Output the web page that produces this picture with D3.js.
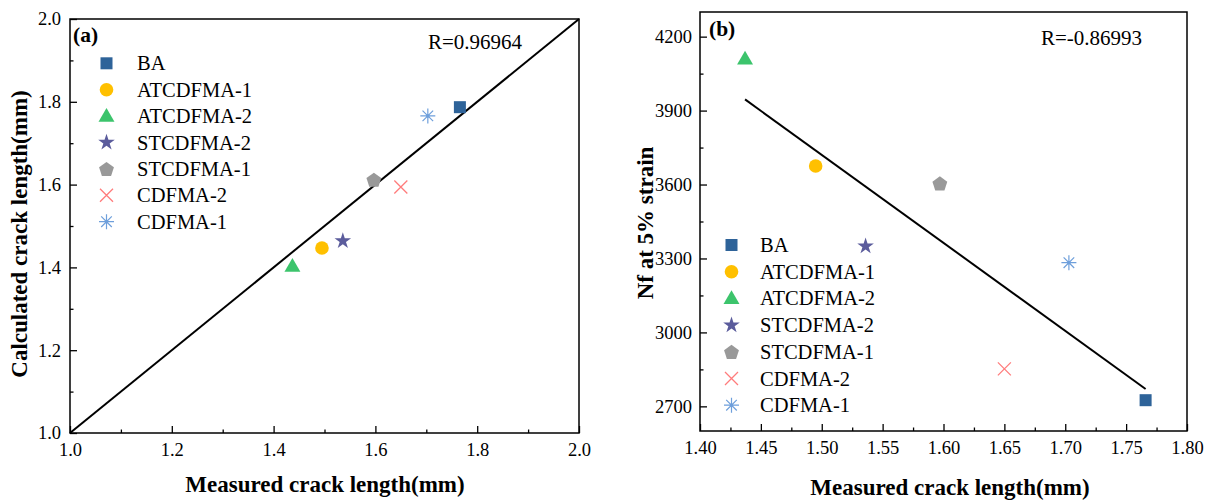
<!DOCTYPE html>
<html><head><meta charset="utf-8">
<script src="https://cdn.jsdelivr.net/npm/d3@7"></script>
<style>
html,body{margin:0;padding:0;background:#fff;}
svg{display:block;font-family:"Liberation Serif","Times New Roman",serif;}
</style></head>
<body>
<svg id="chart" width="1217" height="502"></svg>
<script>
// ---------- data ----------
const categories = ["BA","ATCDFMA-1","ATCDFMA-2","STCDFMA-2","STCDFMA-1","CDFMA-2","CDFMA-1"];
const measured   = [1.766, 1.495, 1.437, 1.536, 1.597, 1.650, 1.703];
const calculated = [1.787, 1.447, 1.403, 1.464, 1.612, 1.594, 1.766];
const nf5        = [2725, 3675, 4110, 3350, 3605, 2852, 3283];
const colors     = ["#2e6399","#ffc000","#3cc46c","#5b5c9c","#999999","#ff7c7c","#6e9fdb"];
const shapes     = ["square","circle","triangle","star","pentagon","x","asterisk"];
const ticksA     = [1.0,1.2,1.4,1.6,1.8,2.0];
const ticksBx    = [1.40,1.45,1.50,1.55,1.60,1.65,1.70,1.75,1.80];
const ticksBy    = [2700,3000,3300,3600,3900,4200];
const rTextA = "R=0.96964";
const rTextB = "R=-0.86993";

const svg = d3.select("#chart");
const TICK_FS = 18.5, LEG_FS = 20.5, TITLE_FS = 23, R_FS = 21, LAB_FS = 21.5;

function marker(g, shape, color, cx, cy){
  const s = g.append("g").attr("transform",`translate(${cx},${cy})`);
  if(shape==="square"){
    s.append("rect").attr("x",-6).attr("y",-6).attr("width",12).attr("height",12).attr("fill",color);
  } else if(shape==="circle"){
    s.append("circle").attr("r",6.8).attr("fill",color);
  } else if(shape==="triangle"){
    s.append("path").attr("d",d3.symbol(d3.symbolTriangle,110)()).attr("transform","translate(0,1)").attr("fill",color);
  } else if(shape==="star"){
    s.append("path").attr("d",d3.symbol(d3.symbolStar,85)()).attr("fill",color);
  } else if(shape==="pentagon"){
    const pts=[];for(let i=0;i<5;i++){const a=-Math.PI/2+i*2*Math.PI/5;pts.push([7.8*Math.cos(a),7.8*Math.sin(a)+0.8]);}
    s.append("path").attr("d","M"+pts.join("L")+"Z").attr("fill",color);
  } else if(shape==="x"){
    s.append("path").attr("d","M-6.5,-6.5L6.5,6.5M-6.5,6.5L6.5,-6.5").attr("stroke",color).attr("stroke-width",1.3).attr("fill","none");
  } else if(shape==="asterisk"){
    s.append("path").attr("d","M0,-7.5L0,7.5M-7.5,0L7.5,0M-5.3,-5.3L5.3,5.3M-5.3,5.3L5.3,-5.3").attr("stroke",color).attr("stroke-width",1.2).attr("fill","none");
    s.append("circle").attr("r",1.6).attr("fill",color);
  }
}

function styleAxis(g){
  g.select(".domain").remove();
  g.selectAll("line").attr("stroke","#000").attr("stroke-width",1.3);
  g.selectAll("text").attr("font-size",TICK_FS).attr("fill","#000").attr("font-family","Liberation Serif");
}

// ---------- panel (a) ----------
{
  const L=70,R=579,T=19,B=433;
  const x=d3.scaleLinear().domain([1.0,2.0]).range([L,R]);
  const y=d3.scaleLinear().domain([1.0,2.0]).range([B,T]);
  const g=svg.append("g");
  const minors=d3.range(1.1,2.0,0.2);
  g.append("g").attr("transform",`translate(0,${B})`).call(d3.axisBottom(x).tickValues(minors).tickSize(-3.5).tickFormat("")).call(styleAxis);
  g.append("g").attr("transform",`translate(0,${B})`).call(d3.axisBottom(x).tickValues(ticksA).tickSize(-7).tickPadding(10).tickFormat(d3.format(".1f"))).call(styleAxis);
  g.append("g").attr("transform",`translate(${L},0)`).call(d3.axisLeft(y).tickValues(minors).tickSize(-3.5).tickFormat("")).call(styleAxis);
  g.append("g").attr("transform",`translate(${L},0)`).call(d3.axisLeft(y).tickValues(ticksA).tickSize(-7).tickPadding(9).tickFormat(d3.format(".1f"))).call(styleAxis);
  g.append("rect").attr("x",L).attr("y",T).attr("width",R-L).attr("height",B-T).attr("fill","none").attr("stroke","#000").attr("stroke-width",1.5);
  // y = x reference line
  g.append("line").attr("x1",x(1)).attr("y1",y(1)).attr("x2",x(2)).attr("y2",y(2)).attr("stroke","#000").attr("stroke-width",2);
  categories.forEach((c,i)=>marker(g,shapes[i],colors[i],x(measured[i]),y(calculated[i])));
  // legend
  categories.forEach((c,i)=>{
    const yy=63.3+i*26.4;
    marker(g,shapes[i],colors[i],106.5,yy);
    g.append("text").attr("x",137).attr("y",yy+7).attr("font-size",LEG_FS).text(c);
  });
  g.append("text").attr("x",73).attr("y",42).attr("font-size",LAB_FS).attr("font-weight","bold").text("(a)");
  g.append("text").attr("x",428).attr("y",49).attr("font-size",R_FS).text(rTextA);
  g.append("text").attr("x",325).attr("y",492).attr("text-anchor","middle").attr("font-size",TITLE_FS).attr("font-weight","bold").text("Measured crack length(mm)");
  g.append("text").attr("transform",`translate(27,234) rotate(-90)`).attr("text-anchor","middle").attr("font-size",TITLE_FS).attr("font-weight","bold").text("Calculated crack length(mm)");
}

// ---------- panel (b) ----------
{
  const L=700,R=1187,T=12,B=431;
  const x=d3.scaleLinear().domain([1.40,1.80]).range([L,R]);
  const y=d3.scaleLinear().domain([2600,4300]).range([B,T]);
  const g=svg.append("g");
  const xMin=d3.range(1.425,1.8,0.05);
  const yMin=d3.range(2850,4300,300);
  g.append("g").attr("transform",`translate(0,${B})`).call(d3.axisBottom(x).tickValues(xMin).tickSize(-3.5).tickFormat("")).call(styleAxis);
  g.append("g").attr("transform",`translate(0,${B})`).call(d3.axisBottom(x).tickValues(ticksBx).tickSize(-7).tickPadding(10).tickFormat(d3.format(".2f"))).call(styleAxis);
  g.append("g").attr("transform",`translate(${L},0)`).call(d3.axisLeft(y).tickValues(yMin).tickSize(-3.5).tickFormat("")).call(styleAxis);
  g.append("g").attr("transform",`translate(${L},0)`).call(d3.axisLeft(y).tickValues(ticksBy).tickSize(-7).tickPadding(8).tickFormat(d3.format("d"))).call(styleAxis);
  g.append("rect").attr("x",L).attr("y",T).attr("width",R-L).attr("height",B-T).attr("fill","none").attr("stroke","#000").attr("stroke-width",1.5);
  // linear fit line computed from the data
  const mx=d3.mean(measured), my=d3.mean(nf5);
  const sxy=d3.sum(measured.map((v,i)=>(v-mx)*(nf5[i]-my)));
  const sxx=d3.sum(measured.map(v=>(v-mx)*(v-mx)));
  const slope=sxy/sxx, icp=my-slope*mx;
  const [x0,x1]=d3.extent(measured);
  g.append("line").attr("x1",x(x0)).attr("y1",y(icp+slope*x0)).attr("x2",x(x1)).attr("y2",y(icp+slope*x1)).attr("stroke","#000").attr("stroke-width",2);
  categories.forEach((c,i)=>marker(g,shapes[i],colors[i],x(measured[i]),y(nf5[i])));
  categories.forEach((c,i)=>{
    const yy=245+i*26.7;
    marker(g,shapes[i],colors[i],731.5,yy);
    g.append("text").attr("x",760).attr("y",yy+7).attr("font-size",LEG_FS).text(c);
  });
  g.append("text").attr("x",709).attr("y",36).attr("font-size",LAB_FS).attr("font-weight","bold").text("(b)");
  g.append("text").attr("x",1041).attr("y",45).attr("font-size",R_FS).text(rTextB);
  g.append("text").attr("x",950).attr("y",495).attr("text-anchor","middle").attr("font-size",TITLE_FS).attr("font-weight","bold").text("Measured crack length(mm)");
  g.append("text").attr("transform",`translate(653,223) rotate(-90)`).attr("text-anchor","middle").attr("font-size",TITLE_FS).attr("font-weight","bold").text("Nf at 5% strain");
}
</script>
</body></html>
